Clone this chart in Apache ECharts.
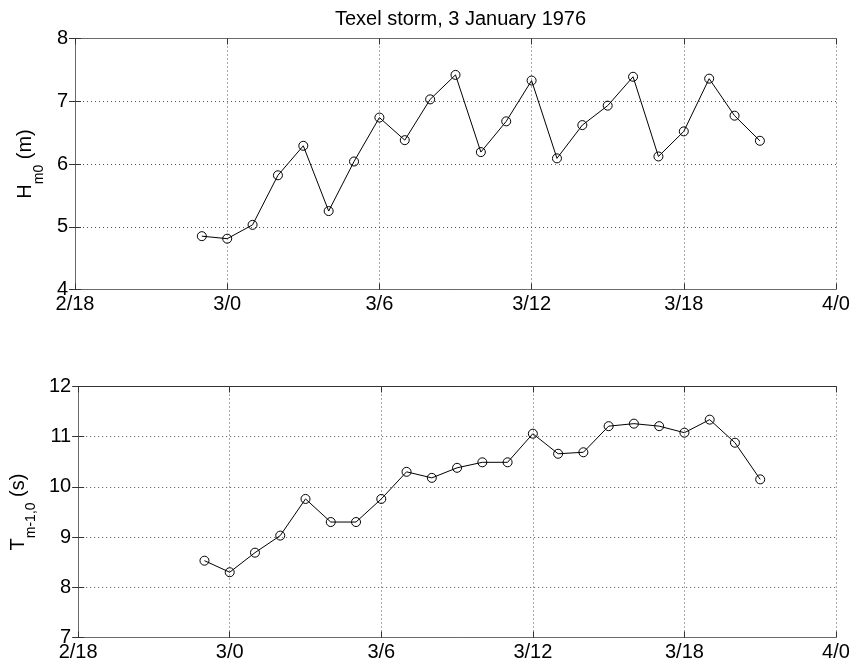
<!DOCTYPE html>
<html>
<head>
<meta charset="utf-8">
<script src="https://cdn.jsdelivr.net/npm/echarts@6/dist/echarts.min.js"></script>
<style>
html,body{margin:0;padding:0;background:#fff;}
#chart{width:853px;height:668px;}
</style>
</head>
<body>
<div id="chart"></div>
<script>
// hours after day 2, hour 18
var hours = [5, 6, 7, 8, 9, 10, 11, 12, 13, 14, 15, 16, 17, 18, 19, 20, 21, 22, 23, 24, 25, 26, 27];
var hm0 = [4.85, 4.81, 5.03, 5.82, 6.29, 5.25, 6.04, 6.74, 6.38, 7.03, 7.42, 6.19, 6.68, 7.33, 6.09, 6.62, 6.93, 7.39, 6.12, 6.52, 7.36, 6.77, 6.37];
var tm10 = [8.53, 8.30, 8.69, 9.03, 9.76, 9.30, 9.30, 9.76, 10.30, 10.18, 10.38, 10.49, 10.49, 11.06, 10.66, 10.69, 11.21, 11.26, 11.21, 11.08, 11.34, 10.88, 10.15];
var xTickLabels = ['2/18', '3/0', '3/6', '3/12', '3/18', '4/0'];
var titleText = 'Texel storm, 3 January 1976';

var FONT = '"Liberation Sans", Arial, Helvetica, sans-serif';
var AXC = '#6a6a6a';

function pairs(xs, ys) { return xs.map(function (x, i) { return [x, ys[i]]; }); }

function xAxes(gi) {
  return [{
    gridIndex: gi, type: 'value', position: 'bottom', min: 0, max: 30, interval: 6,
    axisLine: { show: true, lineStyle: { color: AXC, width: 1 } },
    axisTick: { show: true, inside: true, length: 6, lineStyle: { color: '#333' } },
    axisLabel: { show: true, margin: 5, color: '#000', fontFamily: FONT, fontSize: 20,
      formatter: function (v) { return xTickLabels[Math.round(v / 6)]; } },
    splitLine: { show: true, lineStyle: { color: '#555', width: 1, type: [1, 3] } }
  }, {
    gridIndex: gi, type: 'value', position: 'top', min: 0, max: 30, interval: 6,
    axisLine: { show: true, lineStyle: { color: gi === 0 ? AXC : '#333', width: 1 } },
    axisTick: { show: true, inside: true, length: 6, lineStyle: { color: '#333' } },
    axisLabel: { show: false }, splitLine: { show: false }
  }];
}
function yAxes(gi, mn, mx, name) {
  return [{
    gridIndex: gi, type: 'value', position: 'left', min: mn, max: mx, interval: 1,
    axisLine: { show: true, lineStyle: { color: AXC, width: 1 } },
    axisTick: { show: true, inside: true, length: 6, lineStyle: { color: '#333' } },
    axisLabel: { show: true, margin: 7, color: '#000', fontFamily: FONT, fontSize: 20 },
    splitLine: { show: true, lineStyle: { color: '#555', width: 1, type: [1, 3] } },
    name: name, nameLocation: 'middle', nameRotate: 90, nameGap: gi === 0 ? 27 : 38,
    nameTextStyle: {
      color: '#000', fontFamily: FONT,
      rich: {
        a: { fontSize: 20, fontFamily: FONT, color: '#000', verticalAlign: 'top', lineHeight: 20 },
        b: { fontSize: 14, fontFamily: FONT, color: '#000', verticalAlign: 'bottom', lineHeight: 30 }
      }
    }
  }, {
    gridIndex: gi, type: 'value', position: 'right', min: mn, max: mx, interval: 1,
    axisLine: { show: true, lineStyle: { color: AXC, width: 1 } },
    axisTick: { show: true, inside: true, length: 6, lineStyle: { color: '#333' } },
    axisLabel: { show: false }, splitLine: { show: false }
  }];
}

function lineSeries(xi, yi, data) {
  return {
    type: 'line', xAxisIndex: xi, yAxisIndex: yi, data: data,
    symbol: 'circle', symbolSize: 9, showSymbol: true,
    lineStyle: { color: '#000', width: 1 },
    itemStyle: { color: 'rgba(255,255,255,0)', borderColor: '#000', borderWidth: 1 },
    emphasis: { disabled: true }, silent: true, z: 5
  };
}

var chart = echarts.init(document.getElementById('chart'), null, { renderer: 'canvas' });
chart.setOption({
  animation: false,
  backgroundColor: '#fff',
  title: {
    text: titleText, left: 455.5, top: 4, textAlign: 'center',
    textStyle: { fontFamily: FONT, fontSize: 20, fontWeight: 'normal', color: '#000' }
  },
  grid: [
    { left: 75, right: 17, top: 38.5, height: 251, containLabel: false },
    { left: 75, right: 17, top: 386.5, height: 251, containLabel: false }
  ],
  xAxis: xAxes(0).concat(xAxes(1)),
  yAxis: yAxes(0, 4, 8, '{a|H}{b|m0}{a| (m)}').concat(yAxes(1, 7, 12, '{a|T}{b|m-1,0}{a| (s)}')),
  series: [
    lineSeries(0, 0, pairs(hours, hm0)),
    lineSeries(2, 2, pairs(hours, tm10))
  ]
});
</script>
</body>
</html>
